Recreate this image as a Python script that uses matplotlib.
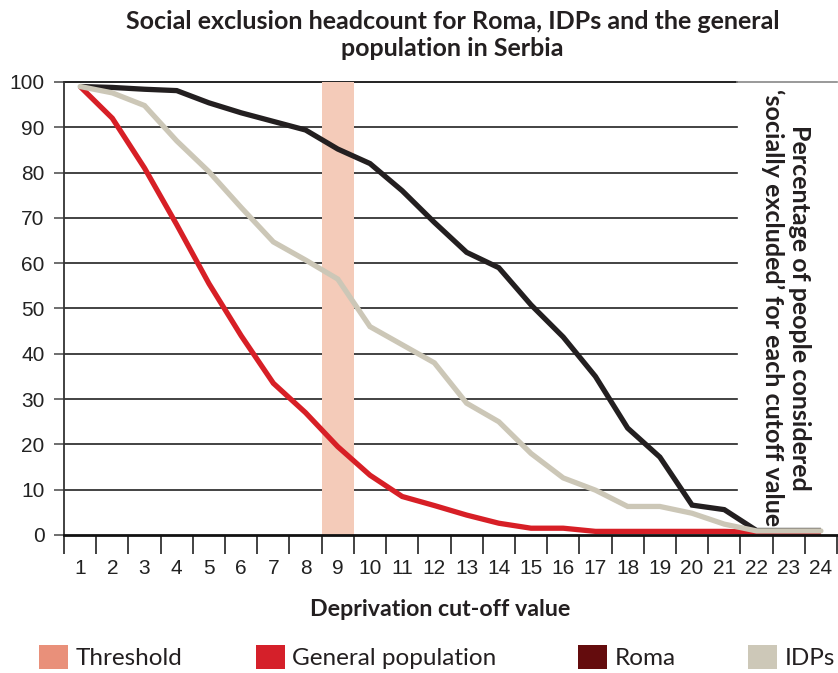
import numpy as np
import matplotlib.pyplot as plt
from matplotlib.patches import Patch

# Valores (percentagem por valor de corte)
cutoffs = np.arange(1, 25)
general_population = [99, 92, 81, 68.5, 55.5, 44, 33.5, 27, 19.5, 13.2, 8.5, 6.5,
                      4.4, 2.6, 1.5, 1.5, 0.8, 0.8, 0.8, 0.8, 0.8, 0.6, 0.6, 0.6]
roma = [99, 98.8, 98.4, 98.1, 95.4, 93.2, 91.3, 89.4, 85.2, 82, 76, 69,
        62.4, 59, 50.8, 43.7, 35, 23.6, 17.2, 6.6, 5.6, 1.0, 1.0, 1.0]
idps = [99, 97.6, 94.8, 87, 80.2, 72.3, 64.7, 60.7, 56.5, 46, 42, 38,
        29.1, 25, 18, 12.6, 9.9, 6.3, 6.3, 4.8, 2.4, 0.9, 0.9, 0.9]
threshold_cutoff = 9
threshold_height = 100
grid_levels = np.arange(10, 100, 10)

legend_labels = ['Threshold', 'General population', 'Roma', 'IDPs']
legend_colors = ['#E9907A', '#D5202A', '#640C0D', '#CDC8B8']
legend_x_px = [39, 256, 578, 748]

title = 'Social exclusion headcount for Roma, IDPs and the general\npopulation in Serbia'
xlabel = 'Deprivation cut-off value'
ylabel = 'Percentage of people considered\n\u2018socially excluded\u2019 for each cutoff value'

fig = plt.figure(figsize=(8.38, 6.73), dpi=100)
ax = fig.add_axes([64 / 838, 1 - 535 / 673, 773 / 838, (535 - 82) / 673])

# Faixa do limiar
ax.bar(threshold_cutoff, threshold_height, width=1.0, color='#F4CBB9',
       edgecolor='none', zorder=2)

lw = 3.8
ax.plot(cutoffs, general_population, color='#D71F26', lw=lw, zorder=3,
        solid_joinstyle='miter', solid_capstyle='butt')
ax.plot(cutoffs, roma, color='#231F20', lw=lw, zorder=4,
        solid_joinstyle='miter', solid_capstyle='butt')
ax.plot(cutoffs, idps, color='#CCC7B7', lw=lw, zorder=5,
        solid_joinstyle='miter', solid_capstyle='round')

ax.set_xlim(0.5, 24.5)
ax.set_ylim(0, 100)
ax.set_yticks(np.arange(0, 101, 10))
ax.set_xticks(cutoffs)
ax.set_xticks(np.arange(0.5, 25, 1.0), minor=True)
ax.tick_params(axis='x', which='major', length=0, pad=17, labelsize=15)
ax.tick_params(axis='x', which='minor', length=14, width=1.2, color='#222222')
ax.tick_params(axis='y', length=7, width=1.2, color='#555555', pad=7, labelsize=15)
for lab in ax.get_xticklabels() + ax.get_yticklabels():
    lab.set_fontfamily('Liberation Sans')
    lab.set_color('#222222')

# Linhas de grade param antes do rótulo da direita
grid_end = (737 - 64) / 773
for g in grid_levels:
    ax.axhline(g, xmin=0, xmax=grid_end, color='#222222', lw=1.2, zorder=1)
ax.axhline(100, xmin=0, xmax=grid_end, color='#222222', lw=1.4, zorder=1,
           clip_on=False)
ax.axhline(100, xmin=grid_end, xmax=1, color='#888888', lw=1.2, zorder=1,
           clip_on=False)

for side in ['top', 'right']:
    ax.spines[side].set_visible(False)
ax.spines['left'].set_linewidth(1.3)
ax.spines['left'].set_color('#333333')
ax.spines['bottom'].set_linewidth(2.0)
ax.spines['bottom'].set_color('#111111')
ax.spines['bottom'].set_zorder(6)

fig.text(0.54, 1 - 35 / 673, title, ha='center', va='center', fontsize=18,
         fontweight='bold', fontfamily='Lato', color='#231F20', linespacing=1.2)
fig.text(0.525, 1 - 610 / 673, xlabel, ha='center', va='center', fontsize=16.7,
         fontweight='bold', fontfamily='Lato', color='#231F20')
fig.text(0.938, 1 - 308 / 673, ylabel, ha='center', va='center', rotation=270,
         fontsize=18, fontweight='bold', fontfamily='Lato', color='#231F20',
         linespacing=1.15, zorder=7)

# Legenda: uma entrada por posição
for label, color, xpx in zip(legend_labels, legend_colors, legend_x_px):
    leg = fig.legend([Patch(facecolor=color, edgecolor='none')], [label],
                     loc='center left', bbox_to_anchor=(xpx / 838, 1 - 657 / 673),
                     frameon=False, prop={'family': 'Lato', 'size': 17.5},
                     handlelength=1.2, handleheight=1.2, handletextpad=0.3,
                     borderpad=0, borderaxespad=0, labelcolor='#231F20')

fig.savefig('out.png', dpi=100)
